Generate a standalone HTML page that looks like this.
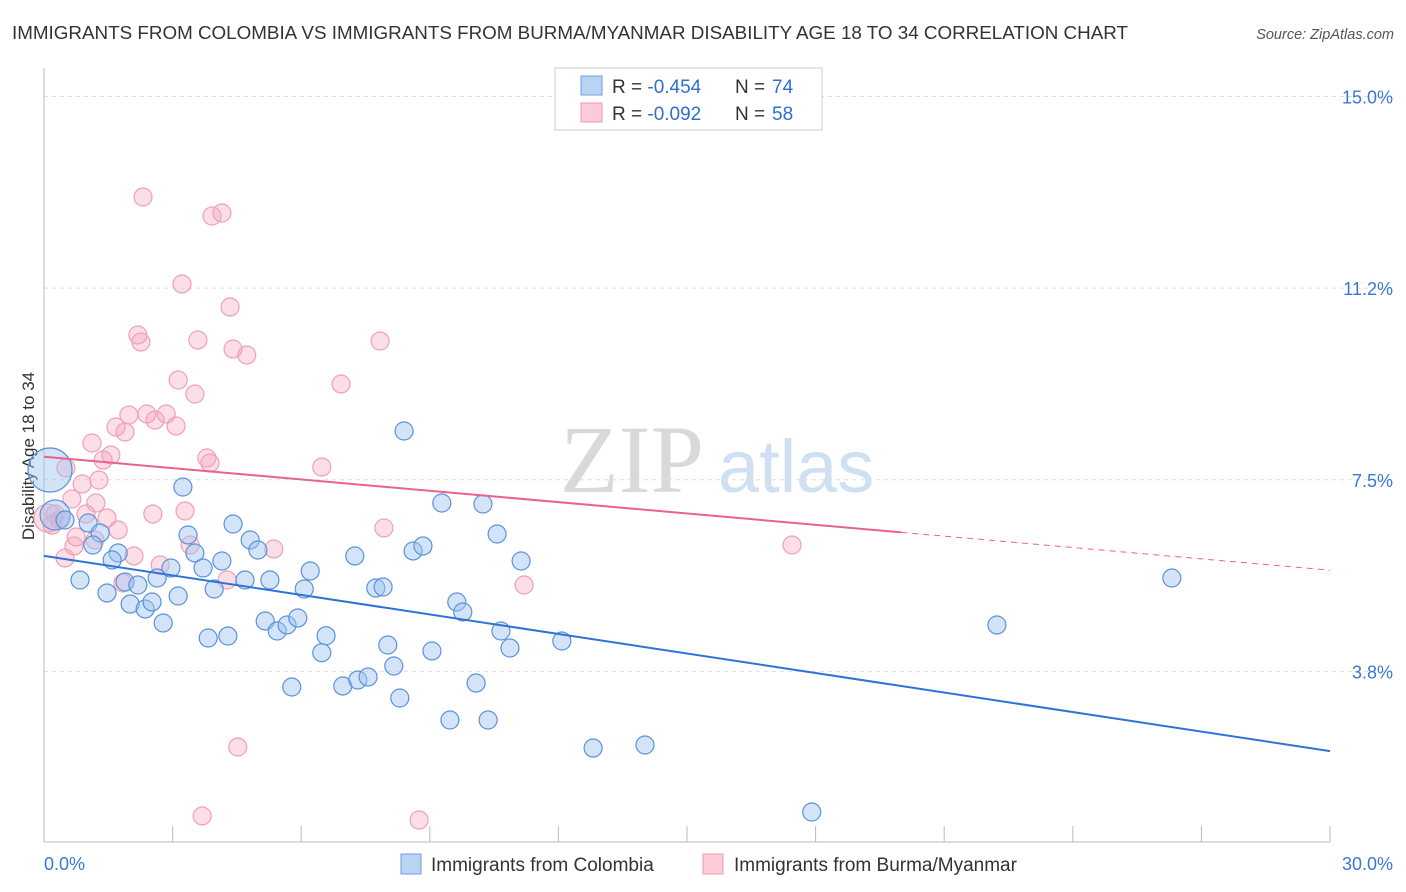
<!DOCTYPE html>
<html><head><meta charset="utf-8">
<style>
body{margin:0;background:#fff;font-family:"Liberation Sans",sans-serif;}
#wrap{position:relative;width:1406px;height:892px;overflow:hidden;}
</style></head>
<body>
<div id="wrap">
<svg id="svg" width="1406" height="892" xmlns="http://www.w3.org/2000/svg">
<text x="12" y="39" font-size="18.5" fill="#333" textLength="1116" lengthAdjust="spacingAndGlyphs">IMMIGRANTS FROM COLOMBIA VS IMMIGRANTS FROM BURMA/MYANMAR DISABILITY AGE 18 TO 34 CORRELATION CHART</text>
<text x="1394" y="39" font-size="14.5" fill="#555" font-style="italic" text-anchor="end">Source: ZipAtlas.com</text>
<text x="560" y="492" font-size="96" fill="#d9d9d9" font-family="Liberation Serif,serif">ZIP</text>
<text x="718" y="492" font-size="74" fill="#cfe0f3">atlas</text>
<text transform="translate(34,456) rotate(-90)" font-size="17" fill="#333" text-anchor="middle">Disability Age 18 to 34</text>
<g id="grid"></g><g id="pts"></g><g id="lines"></g>
<g>
<rect x="555" y="68" width="267" height="62" fill="#fff" stroke="#ccc"/>
<rect x="581" y="76" width="21" height="19" fill="#b9d3f3" stroke="#6d9ee0"/>
<rect x="581" y="103" width="21" height="19" fill="#fbcbd8" stroke="#ee9ab1"/>
<text x="612" y="93" font-size="19" fill="#333">R = <tspan fill="#2f6fd0">-0.454</tspan></text>
<text x="735" y="93" font-size="19" fill="#333">N = </text>
<text x="772" y="93" font-size="19" fill="#2f6fd0">74</text>
<text x="612" y="120" font-size="19" fill="#333">R = <tspan fill="#2f6fd0">-0.092</tspan></text>
<text x="735" y="120" font-size="19" fill="#333">N = </text>
<text x="772" y="120" font-size="19" fill="#2f6fd0">58</text>
</g>
<g>
<rect x="401" y="854" width="20" height="20" fill="#b9d3f3" stroke="#6d9ee0"/>
<text x="431" y="871" font-size="19" fill="#333">Immigrants from Colombia</text>
<rect x="703" y="854" width="20" height="20" fill="#fbcbd8" stroke="#ee9ab1"/>
<text x="734" y="871" font-size="19" fill="#333">Immigrants from Burma/Myanmar</text>
</g>
<text x="44" y="870" font-size="18" fill="#3a78d4">0.0%</text>
<text x="1393" y="870" font-size="18" fill="#3a78d4" text-anchor="end">30.0%</text>
</svg>
</div>
<script>
const yTicks=[15.0,11.25,7.5,3.75];
const yTickLabels=["15.0%","11.2%","7.5%","3.8%"];
const blueX=[0.14,0.26,0.49,1.03,1.31,1.14,1.73,1.59,0.84,1.89,2.19,1.47,2.01,2.36,2.52,2.64,2.96,2.78,3.13,3.24,3.36,3.52,3.71,3.97,4.15,3.83,4.29,4.41,4.81,4.99,4.69,5.27,5.16,5.44,5.67,5.92,5.78,6.07,6.21,6.48,6.58,6.97,7.25,7.32,7.56,7.74,7.91,8.02,8.16,8.30,8.40,8.61,8.84,9.05,9.28,9.47,9.63,9.77,10.08,10.36,10.24,10.57,10.66,10.87,11.13,12.08,12.81,14.02,17.91,22.23,26.31];
const blueY=[7.691,6.810,6.712,6.654,6.458,6.223,6.067,5.930,5.538,5.499,5.440,5.284,5.068,4.971,5.108,5.577,5.773,4.697,5.225,7.358,6.419,6.067,5.773,5.362,5.910,4.403,4.442,6.634,6.321,6.125,5.538,5.538,4.736,4.540,4.658,4.795,3.444,5.362,5.714,4.115,4.447,3.464,6.008,3.581,3.640,5.382,5.401,4.266,3.855,3.229,8.454,6.106,6.204,4.149,7.045,2.798,5.108,4.912,3.522,2.798,7.025,6.438,4.540,4.207,5.910,4.344,2.250,2.309,0.998,4.658,5.577];
const pinkX=[2.31,3.92,4.15,3.22,4.34,2.19,2.26,3.59,4.41,4.73,7.84,3.13,6.93,3.52,1.98,2.40,2.85,1.68,2.59,3.08,1.89,1.12,1.56,1.38,0.51,3.80,3.87,6.48,0.89,1.28,0.65,1.21,2.54,3.29,0.26,0.37,0.19,0.98,1.47,1.73,0.75,1.19,0.70,0.49,2.10,2.71,3.41,5.36,4.27,1.84,7.93,11.20,17.45,4.52,3.69,8.75,0.09];
const pinkY=[13.033,12.661,12.720,11.331,10.881,10.333,10.196,10.235,10.059,9.941,10.215,9.452,9.374,9.178,8.767,8.787,8.787,8.532,8.669,8.552,8.434,8.219,7.984,7.886,7.730,7.925,7.828,7.750,7.417,7.495,7.123,7.045,6.830,6.888,6.830,6.712,6.614,6.830,6.751,6.517,6.380,6.321,6.204,5.969,6.008,5.832,6.223,6.145,5.538,5.479,6.556,5.440,6.223,2.270,0.920,0.841,6.750];
const blueTrend=[6.01,2.19];
const pinkTrend=[7.95,5.73];
const sx=v=>44+v*42.867;
const sy=v=>863-v*51.1;
const NS="http://www.w3.org/2000/svg";
function mk(tag,attrs,parent){const e=document.createElementNS(NS,tag);for(const k in attrs)e.setAttribute(k,attrs[k]);parent.appendChild(e);return e;}
const grid=document.getElementById('grid');
yTicks.forEach((t,i)=>{
  const g=mk('line',{x1:44,x2:1395,y1:sy(t),y2:sy(t),stroke:'#ddd','stroke-dasharray':'4,4'},grid);
  
  
  const tx=mk('text',{x:1393,y:sy(t)+7,'font-size':18,fill:'#3a78d4','text-anchor':'end'},grid);
  tx.textContent=yTickLabels[i];
  
  
});
let ax=mk('line',{x1:44,x2:44,y1:68,y2:842,stroke:'#bbb'},grid);


ax=mk('line',{x1:44,x2:1330,y1:842,y2:842,stroke:'#bbb'},grid);


for(let i=1;i<=10;i++){
  const tk=mk('line',{x1:sx(i*3),x2:sx(i*3),y1:826,y2:842,stroke:'#bbb'},grid);
  
  
}
const pts=document.getElementById('pts');
pinkX.forEach((x,i)=>{
  const r=i===pinkX.length-1?14:9;
  const c=mk('circle',{cx:sx(x),cy:sy(pinkY[i]),r:r,fill:'rgba(246,160,185,0.35)',stroke:'#f0a0b6','stroke-width':1.2},pts);
  
  
});
blueX.forEach((x,i)=>{
  const r=i===0?22:(i===1?15:9);
  const c=mk('circle',{cx:sx(x),cy:sy(blueY[i]),r:r,fill:'rgba(160,196,240,0.45)',stroke:'#5a92dc','stroke-width':1.2},pts);
  
  
});
const lines=document.getElementById('lines');
let l=mk('line',{x1:sx(0),y1:sy(blueTrend[0]),x2:sx(30),y2:sy(blueTrend[1]),stroke:'#2f72d8','stroke-width':2},lines);


const pm=v=>pinkTrend[0]+(pinkTrend[1]-pinkTrend[0])*v/30;
l=mk('line',{x1:sx(0),y1:sy(pm(0)),x2:sx(20),y2:sy(pm(20)),stroke:'#e8638c','stroke-width':2},lines);


l=mk('line',{x1:sx(20),y1:sy(pm(20)),x2:sx(30),y2:sy(pm(30)),stroke:'#e8638c','stroke-width':1,'stroke-dasharray':'6,5'},lines);


</script>
</body></html>
